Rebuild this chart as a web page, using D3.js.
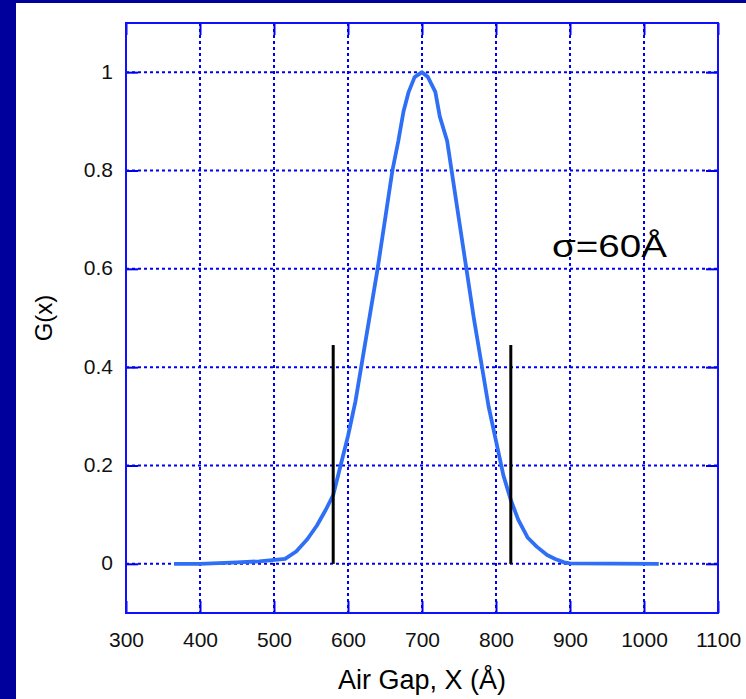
<!DOCTYPE html>
<html><head><meta charset="utf-8">
<script src="https://cdn.jsdelivr.net/npm/d3@7"></script>
<style>html,body{margin:0;padding:0;background:#00009c;}svg{display:block;}</style>
</head><body>
<svg id="c" width="746" height="699"></svg>
<script>
// Data
const gapX = [365, 400, 450, 480, 515, 530, 545, 558, 570, 580, 590, 600, 610, 620, 630, 640, 650, 660, 668, 675, 682, 690, 700,
              708, 718, 724, 734, 740, 750, 760, 770, 780, 790, 800, 810, 820, 830, 843, 855, 869, 880, 892, 900, 1020];
const gVal = [0, 0, 0.003, 0.005, 0.01, 0.025, 0.05, 0.078, 0.11, 0.14, 0.2, 0.26, 0.33, 0.42, 0.51, 0.6, 0.7, 0.8, 0.86, 0.92, 0.96, 0.99, 1.0,
              0.99, 0.96, 0.91, 0.86, 0.8, 0.7, 0.6, 0.5, 0.41, 0.32, 0.25, 0.18, 0.13, 0.09, 0.053, 0.035, 0.018, 0.01, 0.003, 0.001, 0];
const markerX = [580, 820];
const markerTop = 0.445;
const xTicks = [300, 400, 500, 600, 700, 800, 900, 1000, 1100];
const yTicks = [0, 0.2, 0.4, 0.6, 0.8, 1];
const yTickLabels = ["0", "0.2", "0.4", "0.6", "0.8", "1"];
const xTitle = "Air Gap, X (Å)";
const yTitle = "G(x)";
const note = "σ=60Å";

const svg = d3.select("#c");
svg.append("rect").attr("x", 16).attr("y", 3).attr("width", 730).attr("height", 696).attr("fill", "#ffffff");

const L = 126, R = 718, T = 23, B = 613;
const x = d3.scaleLinear().domain([300, 1100]).range([L, R]);
const y = d3.scaleLinear().domain([-0.1, 1.1]).range([B, T]);
const blue = "#0000f0";
const font = "Liberation Sans, Arial, sans-serif";

// grid
const g = svg.append("g");
g.selectAll(".vg").data(xTicks.slice(1, -1)).join("line")
  .attr("x1", d => x(d)).attr("x2", d => x(d)).attr("y1", T).attr("y2", B)
  .attr("stroke", blue).attr("stroke-width", 2).attr("stroke-dasharray", "3,3");
g.selectAll(".hg").data(yTicks).join("line")
  .attr("x1", L).attr("x2", R).attr("y1", d => y(d)).attr("y2", d => y(d))
  .attr("stroke", blue).attr("stroke-width", 2).attr("stroke-dasharray", "3,3");

// axes with inner ticks on all sides
const tl = 12;
svg.append("g").attr("transform", `translate(0,${B})`)
  .call(d3.axisBottom(x).tickValues(xTicks).tickSizeInner(-tl).tickSizeOuter(0).tickPadding(34).tickFormat(d3.format("d")))
  .call(a => { a.select(".domain").remove(); a.selectAll("line").attr("stroke", blue).attr("stroke-width", 2);
    a.selectAll("text").attr("font-family", font).attr("font-size", 21).attr("fill", "#111").attr("dy", 0); });
svg.append("g").attr("transform", `translate(0,${T})`)
  .call(d3.axisTop(x).tickValues(xTicks).tickSizeInner(-tl).tickSizeOuter(0).tickFormat(""))
  .call(a => { a.select(".domain").remove(); a.selectAll("line").attr("stroke", blue).attr("stroke-width", 2); });
svg.append("g").attr("transform", `translate(${L},0)`)
  .call(d3.axisLeft(y).tickValues(yTicks).tickSizeInner(-tl).tickSizeOuter(0).tickPadding(13).tickFormat((d, i) => yTickLabels[i]))
  .call(a => { a.select(".domain").remove(); a.selectAll("line").attr("stroke", blue).attr("stroke-width", 2);
    a.selectAll("text").attr("font-family", font).attr("font-size", 21).attr("fill", "#111").attr("dy", 6); });
svg.append("g").attr("transform", `translate(${R},0)`)
  .call(d3.axisRight(y).tickValues(yTicks).tickSizeInner(-tl).tickSizeOuter(0).tickFormat(""))
  .call(a => { a.select(".domain").remove(); a.selectAll("line").attr("stroke", blue).attr("stroke-width", 2); });

// frame
svg.append("rect").attr("x", L).attr("y", T).attr("width", R - L).attr("height", B - T)
  .attr("fill", "none").attr("stroke", "#1010ff").attr("stroke-width", 2);

// curve
const pts = gapX.map((d, i) => [d, gVal[i]]);
svg.append("path").datum(pts)
  .attr("d", d3.line().x(d => x(d[0])).y(d => y(d[1])))
  .attr("fill", "none").attr("stroke", "#2f6ff5").attr("stroke-width", 3.8).attr("stroke-linejoin", "round");

// marker lines
svg.selectAll(".mk").data(markerX).join("line")
  .attr("x1", d => x(d)).attr("x2", d => x(d)).attr("y1", y(0)).attr("y2", y(markerTop))
  .attr("stroke", "#000").attr("stroke-width", 3);

// titles
svg.append("text").attr("x", (L + R) / 2).attr("y", 689).attr("text-anchor", "middle")
  .attr("font-family", font).attr("font-size", 27).attr("fill", "#000").text(xTitle);
svg.append("text").attr("transform", `translate(52,${(T + B) / 2}) rotate(-90)`).attr("text-anchor", "middle")
  .attr("font-family", font).attr("font-size", 24).attr("fill", "#000").text(yTitle);
svg.append("text").attr("x", 552).attr("y", 257)
  .attr("font-family", font).attr("font-size", 31).attr("fill", "#000")
  .attr("textLength", 115).attr("lengthAdjust", "spacingAndGlyphs").text(note);
</script>
</body></html>
